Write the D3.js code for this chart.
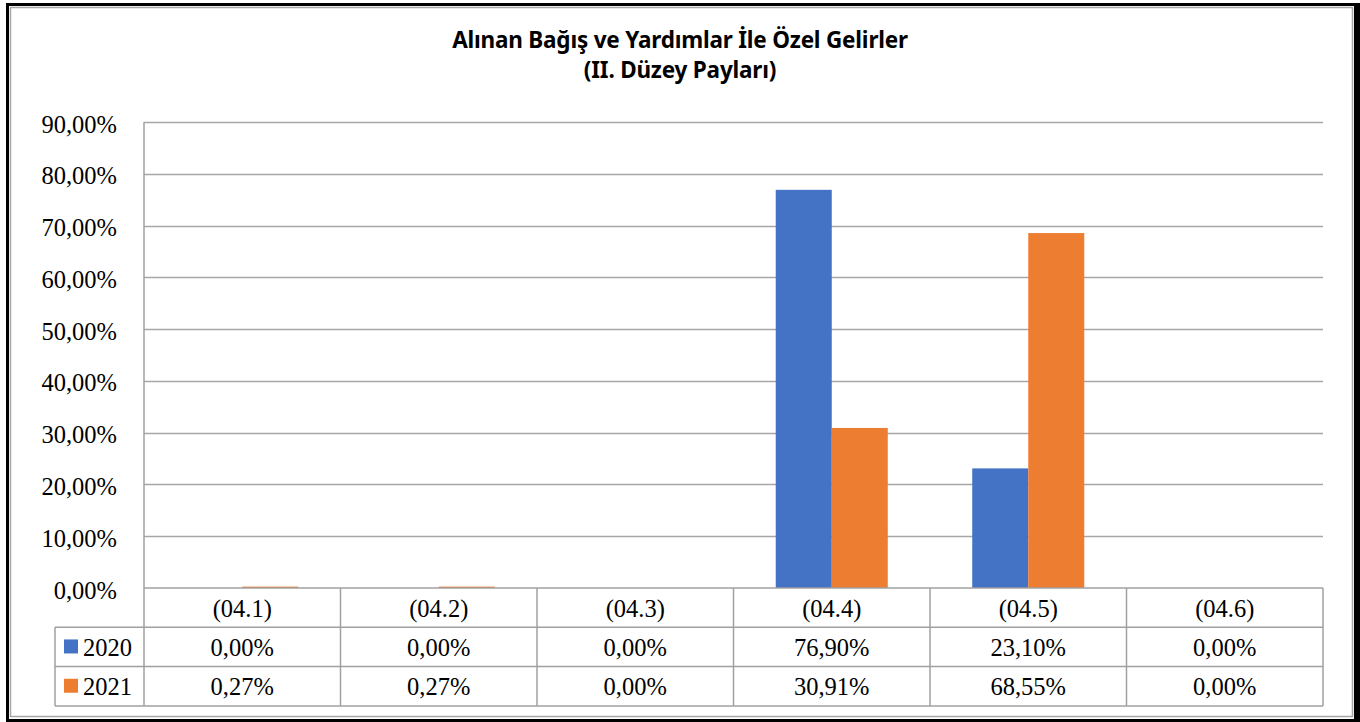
<!DOCTYPE html>
<html>
<head>
<meta charset="utf-8">
<style>
  body { margin: 0; background: #fff; }
  svg { display: block; }
</style>
</head>
<body>
<svg width="1360" height="722"></svg>
<script src="https://d3js.org/d3.v7.min.js"></script>
<script>

const categories = ["(04.1)", "(04.2)", "(04.3)", "(04.4)", "(04.5)", "(04.6)"];
const seriesNames = ["2020", "2021"];
const values2020 = [0.00, 0.00, 0.00, 76.90, 23.10, 0.00];
const values2021 = [0.27, 0.27, 0.00, 30.91, 68.55, 0.00];
const yTicks = [0, 10, 20, 30, 40, 50, 60, 70, 80, 90];
const colors = ["#4472C4", "#ED7D31"];
const titleLines = ["Alınan Bağış ve Yardımlar İle Özel Gelirler", "(II. Düzey Payları)"];

const seriesValues = [values2020, values2021];

const svg = d3.select("svg");

// çerçeve
svg.append("rect").attr("x", 6).attr("y", 3).attr("width", 1354).attr("height", 719).attr("fill", "#000");
svg.append("rect").attr("x", 9).attr("y", 6).attr("width", 1345).attr("height", 713).attr("fill", "#fff");
svg.append("rect").attr("x", 10.5).attr("y", 7.5).attr("width", 1342).attr("height", 709)
  .attr("fill", "none").attr("stroke", "#a6a6a6").attr("stroke-width", 1.5);

const plotLeft = 144, plotRight = 1323, plotTop = 122, base = 588;
const rowH = 39.3;
const legendLeft = 55;
const serif = "Liberation Serif, 'Times New Roman', serif";
const fs = "24.5px";

const x0 = d3.scaleBand().domain(categories).range([plotLeft, plotRight]).padding(0);
const x1 = d3.scaleBand().domain(seriesNames).range([0, x0.bandwidth()]).paddingInner(0).paddingOuter(0.754);
const y = d3.scaleLinear().domain([0, 90]).range([base, plotTop]);

const fmt = v => d3.format(".2f")(v).replace(".", ",") + "%";

// yatay çizgiler
svg.append("g").selectAll("line").data(yTicks.filter(t => t > 0)).enter().append("line")
  .attr("x1", plotLeft).attr("x2", plotRight)
  .attr("y1", d => Math.round(y(d)) + 0.5).attr("y2", d => Math.round(y(d)) + 0.5)
  .attr("stroke", "#a6a6a6").attr("stroke-width", 1.3);

// y ekseni
const yAxis = d3.axisLeft(y).tickValues(yTicks).tickSize(0).tickPadding(0).tickFormat(fmt);
const gy = svg.append("g").attr("transform", "translate(117,0)").call(yAxis);
gy.select(".domain").remove();
gy.selectAll("text").attr("font-family", serif).attr("dy", 10)
  .attr("font-size", fs).attr("fill", "#000");

// çubuklar
const groups = svg.append("g").selectAll("g").data(categories).enter().append("g")
  .attr("transform", d => `translate(${x0(d)},0)`);
groups.selectAll("rect").data((c, i) => seriesNames.map((s, j) => ({ s, v: seriesValues[j][i], j })))
  .enter().append("rect")
  .attr("x", d => x1(d.s))
  .attr("width", x1.bandwidth())
  .attr("y", d => y(d.v))
  .attr("height", d => base - y(d.v))
  .attr("fill", d => colors[d.j]);

// veri tablosu
const tbl = svg.append("g").attr("stroke", "#a0a0a0").attr("stroke-width", 1.5);
const tableBottom = base + rowH * 3;
tbl.append("line").attr("x1", plotLeft).attr("x2", plotLeft).attr("y1", plotTop).attr("y2", tableBottom);
x0.domain().forEach(c => {
  tbl.append("line").attr("x1", x0(c) + x0.bandwidth()).attr("x2", x0(c) + x0.bandwidth())
    .attr("y1", base).attr("y2", tableBottom);
});
tbl.append("line").attr("x1", plotLeft).attr("x2", plotRight).attr("y1", base).attr("y2", base);
[1, 2, 3].forEach(r => {
  tbl.append("line").attr("x1", legendLeft).attr("x2", plotRight)
    .attr("y1", base + rowH * r).attr("y2", base + rowH * r);
});
tbl.append("line").attr("x1", legendLeft).attr("x2", legendLeft).attr("y1", base + rowH).attr("y2", tableBottom);

svg.append("g").selectAll("text").data(categories).enter().append("text")
  .attr("x", d => x0(d) + x0.bandwidth() / 2).attr("y", base + rowH / 2 + 9)
  .attr("text-anchor", "middle").attr("font-family", serif).attr("font-size", fs)
  .text(d => d);

seriesNames.forEach((s, j) => {
  const cy = base + rowH * (j + 1) + rowH / 2;
  svg.append("rect").attr("x", 64).attr("y", cy - 7.5).attr("width", 14).attr("height", 14).attr("fill", colors[j]);
  svg.append("text").attr("x", 83).attr("y", cy + 9).attr("font-family", serif).attr("font-size", fs).text(s);
  svg.append("g").selectAll("text").data(categories).enter().append("text")
    .attr("x", d => x0(d) + x0.bandwidth() / 2).attr("y", cy + 9)
    .attr("text-anchor", "middle").attr("font-family", serif).attr("font-size", fs)
    .text((d, i) => fmt(seriesValues[j][i]));
});

// başlık
svg.append("g").selectAll("text").data(titleLines).enter().append("text")
  .attr("x", 680).attr("y", (d, i) => 48 + i * 30)
  .attr("text-anchor", "middle").attr("font-family", "'Noto Sans', sans-serif")
  .attr("font-weight", "bold").attr("font-size", "22.5px").attr("letter-spacing", "-0.2px")
  .text(d => d);

</script>
</body>
</html>
